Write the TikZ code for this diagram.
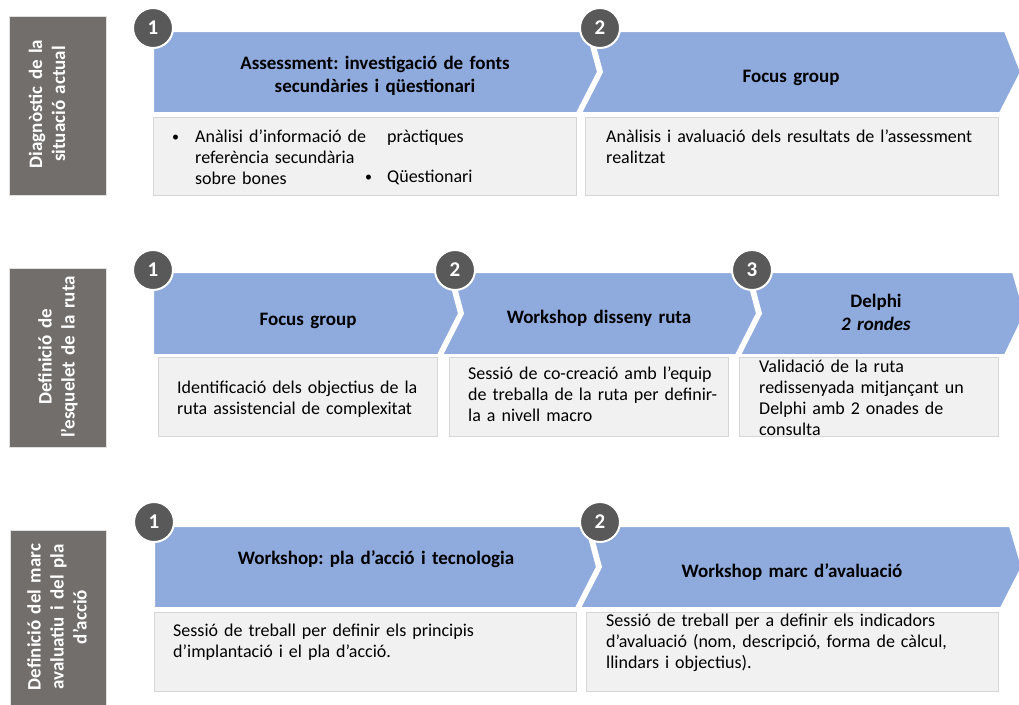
\documentclass[tikz,border=0pt]{standalone}
\usepackage{fontspec}
\setmainfont{Carlito}
\frenchspacing
\definecolor{stagegray}{RGB}{114,110,108}
\definecolor{stepblue}{RGB}{143,170,220}
\definecolor{numgray}{RGB}{89,89,89}
\definecolor{boxgray}{RGB}{241,241,241}
\definecolor{boxline}{RGB}{214,214,214}
\tikzstyle{stage} = [fill=stagegray, draw=black!12, line width=1pt]
\tikzstyle{stagetext} = [rotate=90, text=white, font=\fontsize{19}{23}\selectfont\bfseries, align=center, text width=175pt, inner sep=0pt]
\tikzstyle{chevron} = [fill=stepblue, draw=white, line width=2pt]
\tikzstyle{heading} = [anchor=base, font=\fontsize{19}{23}\selectfont\bfseries, align=center, text width=400pt, inner sep=0pt]
\tikzstyle{num} = [circle, fill=numgray, draw=white, line width=2pt, minimum size=40pt, inner sep=0pt, text=white, font=\fontsize{21}{21}\selectfont\bfseries]
\tikzstyle{infobox} = [fill=boxgray, draw=boxline, line width=0.75pt]
\tikzstyle{info} = [anchor=base west, font=\fontsize{18}{21}\selectfont, align=left, text width=430pt, inner sep=0pt]
\tikzstyle{bullet} = [anchor=base west, font=\fontsize{14}{21}\selectfont, inner sep=0pt]

\begin{document}
\begin{tikzpicture}[x=1pt, y=-1pt]
\useasboundingbox (0,0) rectangle (1019,704);
\clip (0,0) rectangle (1019,704);

% stage bars on the left
\path[stage] (9,16) rectangle (106,195);
\path[stage] (9,268) rectangle (106,447);
\path[stage] (10,530) rectangle (106,712);
\node[stagetext] (stageA) at (47,104) {Diagnòstic de la\\situació actual};
\node[stagetext] (stageB) at (58,357) {Definició de\\l’esquelet de la ruta};
\node[stagetext] (stageC) at (57,617) {Definició del marc\\avaluatiu i del pla\\d’acció};

% first row
\path[chevron] (153,31) -- (587,31) -- (598,72) -- (577,113) -- (153,113) -- cycle;
\path[chevron] (591,31) -- (1005,31) -- (1021,72) -- (1000,113) -- (581,113) -- (602,72) -- cycle;
\path[infobox] (153,117) rectangle (576,195);
\path[infobox] (585,117) rectangle (998,195);
\node[num] (numA1) at (153,28) {1};
\node[num] (numA2) at (600,28) {2};
\node[heading] (assess) at (375,69) {Assessment: investigació de fonts\\secundàries i qüestionari};
\node[heading] (focusA) at (791,82) {Focus group};
\node[bullet] (bulA) at (172,141) {•};
\node[info] (analisi) at (195,142) {Anàlisi d’informació de\\referència secundària\\sobre bones};
\node[info] (practiques) at (387,142) {pràctiques};
\node[bullet] (bulB) at (365,181) {•};
\node[info] (questionari) at (387,182) {Qüestionari};
\node[info] (resultats) at (606,142) {Anàlisis i avaluació dels resultats de l’assessment\\realitzat};

% second row
\path[chevron] (153,272) -- (448,272) -- (459,313.5) -- (438,355) -- (153,355) -- cycle;
\path[chevron] (452,272) -- (746,272) -- (757,313.5) -- (736,355) -- (442,355) -- (463,313.5) -- cycle;
\path[chevron] (750,272) -- (1013,272) -- (1025,313.5) -- (1005,355) -- (740,355) -- (761,313.5) -- cycle;
\path[infobox] (158,357) rectangle (437,436);
\path[infobox] (449,357) rectangle (728,436);
\path[infobox] (739,357) rectangle (998,436);
\node[num] (numB1) at (153,270) {1};
\node[num] (numB2) at (455,270) {2};
\node[num] (numB3) at (752,270) {3};
\node[heading] (focusB) at (308,325) {Focus group};
\node[heading] (disseny) at (599,323) {Workshop disseny ruta};
\node[heading] (delphi) at (876,307) {Delphi\\\textit{2 rondes}};
\node[info] (objectius) at (177,393) {Identificació dels objectius de la\\ruta assistencial de complexitat};
\node[info] (cocreacio) at (468,379) {Sessió de co-creació amb l’equip\\de treballa de la ruta per definir-\\la a nivell macro};
\node[info] (validacio) at (759,372) {Validació de la ruta\\redissenyada mitjançant un\\Delphi amb 2 onades de\\consulta};

% third row
\path[chevron] (154,526) -- (586,526) -- (597,567) -- (576,608) -- (154,608) -- cycle;
\path[chevron] (590,526) -- (1010,526) -- (1022,567) -- (1001,608) -- (580,608) -- (601,567) -- cycle;
\path[infobox] (154,612) rectangle (576,691);
\path[infobox] (586,612) rectangle (998,691);
\node[num] (numC1) at (154,522) {1};
\node[num] (numC2) at (600,522) {2};
\node[heading] (placcio) at (376,564) {Workshop: pla d’acció i tecnologia};
\node[heading] (marc) at (792,577) {Workshop marc d’avaluació};
\node[info] (principis) at (173,636) {Sessió de treball per definir els principis\\d’implantació i el pla d’acció.};
\node[info] (indicadors) at (606,626) {Sessió de treball per a definir els indicadors\\d’avaluació (nom, descripció, forma de càlcul,\\llindars i objectius).};
\end{tikzpicture}
\end{document}
